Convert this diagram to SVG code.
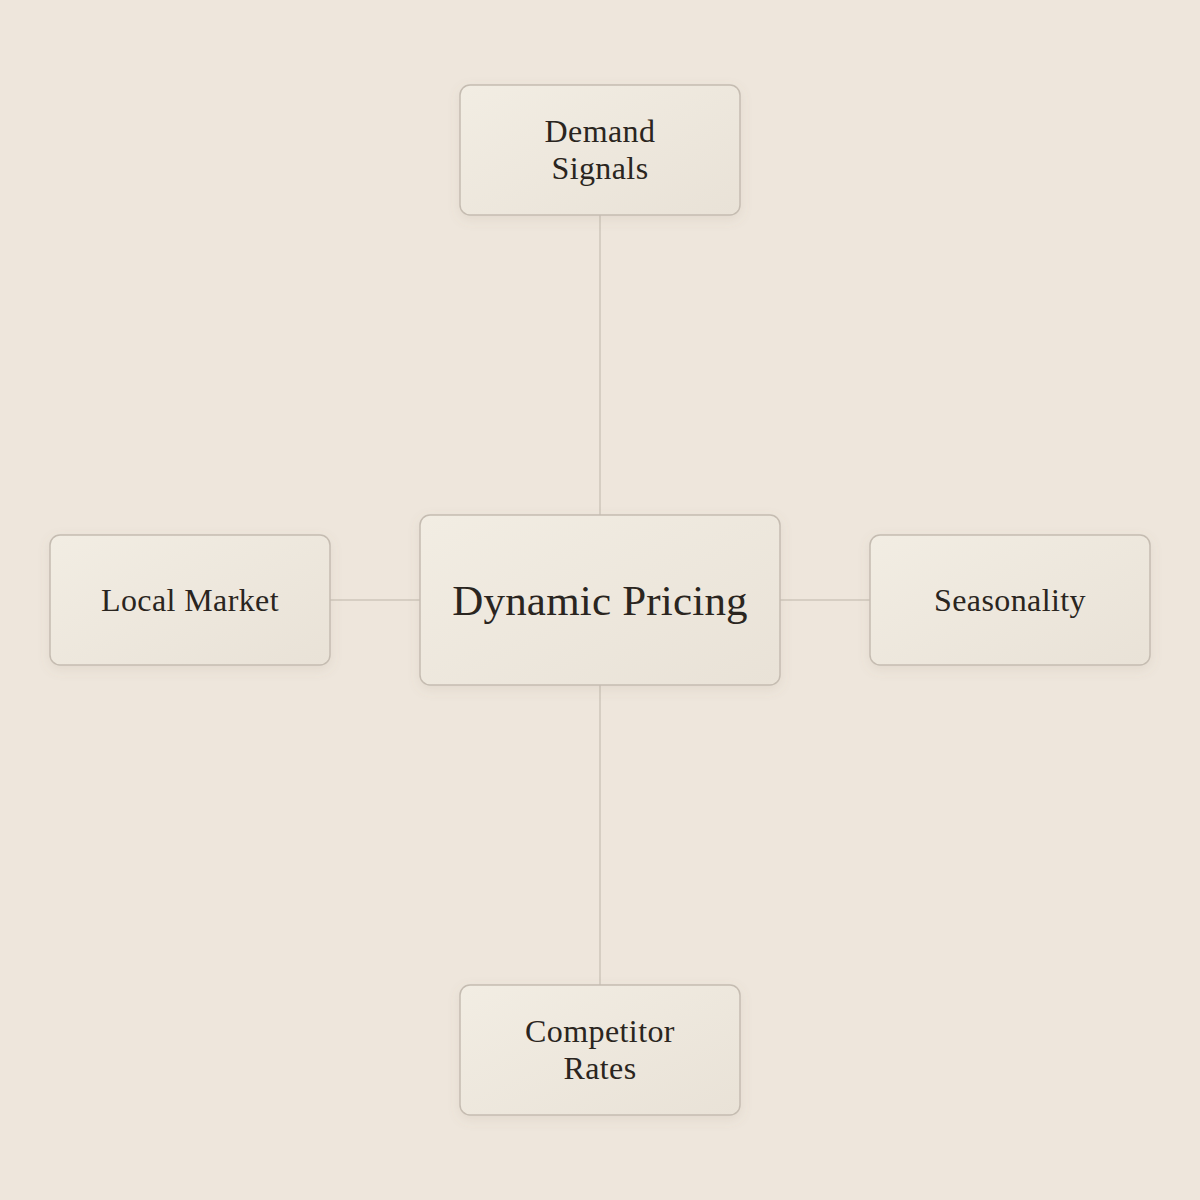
<svg xmlns="http://www.w3.org/2000/svg" width="1200" height="1200" viewBox="0 0 1200 1200">
<defs>
<linearGradient id="boxfill" x1="0" y1="0" x2="1" y2="1">
<stop offset="0" stop-color="#F2EDE3"/>
<stop offset="1" stop-color="#E9E2D7"/>
</linearGradient>
<filter id="shadow" x="-20%" y="-20%" width="140%" height="150%">
<feDropShadow dx="0" dy="4" stdDeviation="6" flood-color="#8A7A66" flood-opacity="0.12"/>
</filter>
</defs>
<style>
.box{fill:url(#boxfill);stroke:#C5BCB1;stroke-width:1.5;filter:url(#shadow)}
.edge{stroke:#CEC6BB;stroke-width:1.5;fill:none}
.lbl{font-family:"Liberation Serif","Times New Roman",serif;fill:#2A2520;text-anchor:middle}
.sm{font-size:32px;letter-spacing:0.4px}
.lg{font-size:43px;letter-spacing:0.2px}
</style>
<rect width="1200" height="1200" fill="#EEE6DC"/>
<g id="connectors">
<line class="edge" x1="600" y1="215" x2="600" y2="515"/>
<line class="edge" x1="600" y1="685" x2="600" y2="985"/>
<line class="edge" x1="330" y1="600" x2="420" y2="600"/>
<line class="edge" x1="780" y1="600" x2="870" y2="600"/>
</g>
<g id="node-demand">
<rect class="box" x="460" y="85" width="280" height="130" rx="10"/>
<text class="lbl sm" x="600" y="142">Demand</text>
<text class="lbl sm" x="600" y="179">Signals</text>
</g>
<g id="node-local">
<rect class="box" x="50" y="535" width="280" height="130" rx="10"/>
<text class="lbl sm" x="190" y="611">Local Market</text>
</g>
<g id="node-center">
<rect class="box" x="420" y="515" width="360" height="170" rx="10"/>
<text class="lbl lg" x="600" y="615">Dynamic Pricing</text>
</g>
<g id="node-season">
<rect class="box" x="870" y="535" width="280" height="130" rx="10"/>
<text class="lbl sm" x="1010" y="611">Seasonality</text>
</g>
<g id="node-competitor">
<rect class="box" x="460" y="985" width="280" height="130" rx="10"/>
<text class="lbl sm" x="600" y="1042">Competitor</text>
<text class="lbl sm" x="600" y="1079">Rates</text>
</g>
</svg>
